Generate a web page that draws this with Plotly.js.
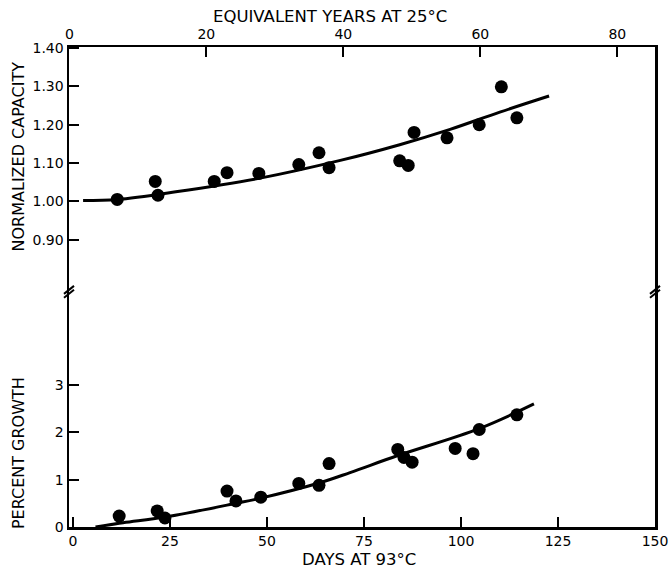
<!DOCTYPE html>
<html>
<head>
<meta charset="utf-8">
<script src="https://cdn.plot.ly/plotly-3.0.1.min.js"></script>
<style>
  html, body { margin: 0; padding: 0; background: #fff; }
  #chart { width: 672px; height: 570px; }
</style>
</head>
<body>
<div id="chart"></div>
<script>
// ---- data ----
// Upper panel: normalized capacity vs days at 93 C
const capDays   = [11.4, 21.2, 21.9, 36.4, 39.7, 47.9, 58.2, 63.4, 66.0, 84.2, 86.4, 87.9, 96.4, 104.7, 110.4, 114.4];
const capValues = [1.005, 1.052, 1.016, 1.052, 1.075, 1.073, 1.096, 1.127, 1.088, 1.106, 1.094, 1.180, 1.166, 1.200, 1.299, 1.218];
// Upper panel fitted curve
const capFitDays   = [2.6, 11.4, 26.5, 47.9, 68.9, 84.2, 97.2, 110.0, 122.7];
const capFitValues = [1.002, 1.005, 1.025, 1.060, 1.107, 1.148, 1.188, 1.233, 1.275];

// Lower panel: percent growth vs days at 93 C
const growDays   = [11.9, 21.7, 23.7, 39.7, 42.0, 48.4, 58.2, 63.4, 66.0, 83.7, 85.3, 87.4, 98.5, 103.1, 104.7, 114.4];
const growValues = [0.23, 0.34, 0.19, 0.76, 0.55, 0.63, 0.92, 0.88, 1.34, 1.64, 1.47, 1.37, 1.66, 1.55, 2.06, 2.37];
// Lower panel fitted curve
const growFitDays   = [5.8, 12.9, 23.7, 42.0, 48.4, 63.4, 71.4, 83.7, 104.7, 118.8];
const growFitValues = [0.00, 0.09, 0.21, 0.50, 0.61, 0.93, 1.15, 1.51, 2.08, 2.60];

// Tick labels
const dayTicks   = [0, 25, 50, 75, 100, 125, 150];
const yearTicks  = [0, 20, 40, 60, 80];
const capTicks   = [0.90, 1.00, 1.10, 1.20, 1.30, 1.40];
const growTicks  = [0, 1, 2, 3];

// ---- drawing ----
const FONT = '"DejaVu Sans", sans-serif';
const BLACK = '#000';
const split = 0.49;     // panel break (paper fraction)

const marker = { color: BLACK, size: 13 };
const traces = [
  { x: capFitDays, y: capFitValues, xaxis: 'x', yaxis: 'y2', mode: 'lines',
    line: { color: BLACK, width: 3, shape: 'spline' }, hoverinfo: 'skip' },
  { x: capDays, y: capValues, xaxis: 'x', yaxis: 'y2', mode: 'markers', marker: marker },
  { x: growFitDays, y: growFitValues, xaxis: 'x', yaxis: 'y', mode: 'lines',
    line: { color: BLACK, width: 3, shape: 'spline' }, hoverinfo: 'skip' },
  { x: growDays, y: growValues, xaxis: 'x', yaxis: 'y', mode: 'markers', marker: marker },
  // empty trace so the top (years) axis is instantiated
  { x: [], y: [], xaxis: 'x2', yaxis: 'y2', mode: 'markers', hoverinfo: 'skip' }
];

const tickFont = { family: FONT, size: 14, color: BLACK };
const axisCommon = {
  showgrid: false, zeroline: false, showline: true, linecolor: BLACK, linewidth: 2.5,
  ticks: 'inside', ticklen: 10, tickwidth: 2, tickcolor: BLACK, tickfont: tickFont
};

// break marks on left and right axes
const bx = 5 / 586, by = 4 / 480;
function breakMark(xc) {
  return [
    { type: 'line', xref: 'paper', yref: 'paper', x0: xc - bx, x1: xc + bx, y0: split - by - 0.004, y1: split + by - 0.004, line: { color: BLACK, width: 2 } },
    { type: 'line', xref: 'paper', yref: 'paper', x0: xc - bx, x1: xc + bx, y0: split - by + 0.004, y1: split + by + 0.004, line: { color: BLACK, width: 2 } }
  ];
}

const layout = {
  width: 672, height: 570,
  margin: { l: 69, r: 17, t: 47, b: 43, pad: 0 },
  paper_bgcolor: '#fff', plot_bgcolor: '#fff',
  showlegend: false,
  font: { family: FONT, color: BLACK },
  xaxis: Object.assign({}, axisCommon, {
    range: [-1.03, 150], domain: [0, 1], anchor: 'y',
    tickvals: dayTicks, ticktext: dayTicks.map(String), mirror: false
  }),
  xaxis2: Object.assign({}, axisCommon, {
    range: [-0.05, 85.5], overlaying: 'x', side: 'top', anchor: 'y2',
    tickvals: yearTicks, ticktext: yearTicks.map(String)
  }),
  yaxis: Object.assign({}, axisCommon, {
    range: [0, 4.97], domain: [0, split], anchor: 'x', mirror: true,
    tickvals: growTicks, ticktext: growTicks.map(String)
  }),
  yaxis2: Object.assign({}, axisCommon, {
    range: [0.764, 1.403], domain: [split, 1], anchor: 'x', mirror: true,
    tickvals: capTicks, ticktext: capTicks.map(v => v.toFixed(2))
  }),
  shapes: breakMark(0).concat(breakMark(1)),
  annotations: [
    { text: 'EQUIVALENT YEARS AT 25°C', xref: 'paper', yref: 'paper', x: 0.445, y: 1, yshift: 31,
      xanchor: 'center', yanchor: 'middle',
      showarrow: false, font: { family: FONT, size: 16.5, color: BLACK } },
    { text: 'DAYS AT 93°C', xref: 'paper', yref: 'paper', x: 0.495, y: 0, yshift: -32,
      xanchor: 'center', yanchor: 'middle',
      showarrow: false, font: { family: FONT, size: 16.5, color: BLACK } },
    { text: 'NORMALIZED CAPACITY', xref: 'paper', yref: 'paper', x: 0, xshift: -51, y: 0.772,
      xanchor: 'center', yanchor: 'middle',
      textangle: -90, showarrow: false, font: { family: FONT, size: 16, color: BLACK } },
    { text: 'PERCENT GROWTH', xref: 'paper', yref: 'paper', x: 0, xshift: -51, y: 0.154,
      xanchor: 'center', yanchor: 'middle',
      textangle: -90, showarrow: false, font: { family: FONT, size: 16, color: BLACK } }
  ]
};

Plotly.newPlot('chart', traces, layout, { displayModeBar: false, staticPlot: true });
</script>
</body>
</html>
